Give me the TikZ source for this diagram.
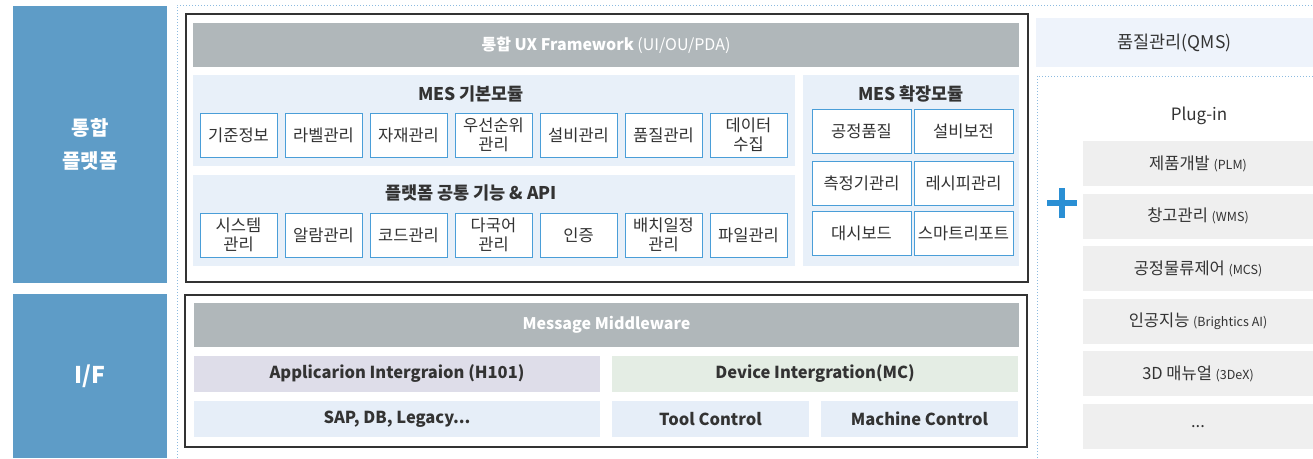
\documentclass[tikz,border=0pt]{standalone}
\usepackage{fontspec}
\setmainfont{Noto Sans CJK KR}
\definecolor{sideblue}{HTML}{5E9CC7}
\definecolor{hdrgray}{HTML}{B0B7BA}
\definecolor{panelblue}{HTML}{E8F0F9}
\definecolor{boxblue}{HTML}{4A9ED8}
\definecolor{txtgray}{HTML}{333333}
\definecolor{appviolet}{HTML}{DEDDE9}
\definecolor{devgreen}{HTML}{E4EDE4}
\definecolor{ctrlblue}{HTML}{E6EEF8}
\definecolor{qmsblue}{HTML}{EEF3FB}
\definecolor{pluggray}{HTML}{EFEFEF}
\definecolor{dotblue}{HTML}{8DBBE0}
\definecolor{plusblue}{HTML}{2A8FD4}
\tikzset{
  side/.style={fill=sideblue, text=white, font=\fontsize{20}{33}\selectfont\bfseries, align=center, inner sep=0pt},
  header/.style={fill=hdrgray, text=white, font=\fontsize{16}{19}\selectfont, inner sep=0pt},
  panel/.style={fill=panelblue, inner sep=0pt},
  paneltitle/.style={text=txtgray, font=\fontsize{17.5}{20}\selectfont\bfseries, inner sep=0pt},
  modbox/.style={draw=boxblue, line width=1pt, fill=white, text=txtgray, font=\fontsize{16.5}{19}\selectfont, align=center, minimum width=77pt, minimum height=44pt, inner sep=0pt},
  extbox/.style={modbox, minimum width=99pt},
  ifbox/.style={text=txtgray, font=\fontsize{16.5}{19}\selectfont\bfseries, minimum height=36pt, inner sep=0pt},
  plugbox/.style={fill=pluggray, text=txtgray, font=\fontsize{16.5}{19}\selectfont, minimum width=230pt, minimum height=45pt, inner sep=0pt},
  frame/.style={draw=black!80, line width=1.3pt},
  dotline/.style={draw=dotblue, line width=1pt, dotted},
}
\newcommand{\plugsmall}{\fontsize{12.5}{14}\selectfont}
\begin{document}
\begin{tikzpicture}[x=1pt,y=-1pt]
\useasboundingbox (0,0) rectangle (1313,458);
% left side labels
\node[side, minimum width=154pt, minimum height=277pt] (plat) at (90,144.5) {통합\\플랫폼};
\node[side, font=\fontsize{23}{26}\selectfont\bfseries, minimum width=154pt, minimum height=164pt] (iface) at (90,376) {I/F};
% dotted frames
\draw[dotline] (177,458) -- (177,5) -- (1313,5);
\draw[dotline] (1037,458) -- (1037,76) -- (1313,76);
% platform block
\draw[frame] (186,14) rectangle (1028,282);
\node[header, minimum width=826pt, minimum height=44pt] (ux) at (606,45) {\textbf{통합 UX Framework} (UI/OU/PDA)};
\node[panel, minimum width=602pt, minimum height=91pt] (basepanel) at (494,120.5) {};
\node[paneltitle] (basetitle) at (471,94) {MES 기본모듈};
\foreach \t [count=\i] in {기준정보,라벨관리,자재관리,{우선순위\\관리},설비관리,품질관리,{데이터\\수집}}
  \node[modbox] (base\i) at ({238.5+85*(\i-1)},135) {\t};
\node[panel, minimum width=602pt, minimum height=91pt] (companel) at (494,220.5) {};
\node[paneltitle] (comtitle) at (471,192.5) {플랫폼 공통 기능 \& API};
\foreach \t [count=\i] in {{시스템\\관리},알람관리,코드관리,{다국어\\관리},인증,{배치일정\\관리},파일관리}
  \node[modbox] (com\i) at ({238.5+85*(\i-1)},235) {\t};
\node[panel, minimum width=216pt, minimum height=191pt] (extpanel) at (911,170.5) {};
\node[paneltitle] (exttitle) at (911,94) {MES 확장모듈};
\node[extbox] (ext1) at (861.5,131.5) {공정품질};
\node[extbox] (ext2) at (963.5,131.5) {설비보전};
\node[extbox] (ext3) at (861.5,183) {측정기관리};
\node[extbox] (ext4) at (963.5,183) {레시피관리};
\node[extbox] (ext5) at (861.5,233.5) {대시보드};
\node[extbox] (ext6) at (963.5,233.5) {스마트리포트};
% interface block
\draw[frame] (185,295) rectangle (1027,447);
\node[header, font=\fontsize{16}{19}\selectfont\bfseries, minimum width=825pt, minimum height=44pt] (mw) at (606.5,325) {Message Middleware};
\node[ifbox, fill=appviolet, minimum width=406pt] (app) at (397,374) {Applicarion Intergraion (H101)};
\node[ifbox, fill=devgreen, minimum width=406pt] (dev) at (815,374) {Device Intergration(MC)};
\node[ifbox, fill=ctrlblue, minimum width=406pt] (sap) at (397,419) {SAP, DB, Legacy...};
\node[ifbox, fill=ctrlblue, minimum width=197pt] (tool) at (710.5,419) {Tool Control};
\node[ifbox, fill=ctrlblue, minimum width=197pt] (mach) at (919.5,419) {Machine Control};
% right side
\node[fill=qmsblue, text=txtgray, font=\fontsize{17.5}{20}\selectfont, minimum width=277pt, minimum height=49pt, inner sep=0pt] (qms) at (1174.5,42.5) {품질관리(QMS)};
\node[text=txtgray, font=\fontsize{17}{20}\selectfont, inner sep=0pt] (plugin) at (1199,116) {Plug-in};
\draw[plusblue, line width=6pt] (1047,203) -- (1077,203) (1062,188) -- (1062,218);
\foreach \t/\s [count=\i] in {제품개발/PLM,창고관리/WMS,공정물류제어/MCS,인공지능/Brightics AI,3D 매뉴얼/3DeX}
  \node[plugbox] (plug\i) at (1198,{163.5+52.6*(\i-1)}) {\t{} {\plugsmall(\s)}};
\node[plugbox] (plug6) at (1198,426.5) {...};
\end{tikzpicture}
\end{document}
